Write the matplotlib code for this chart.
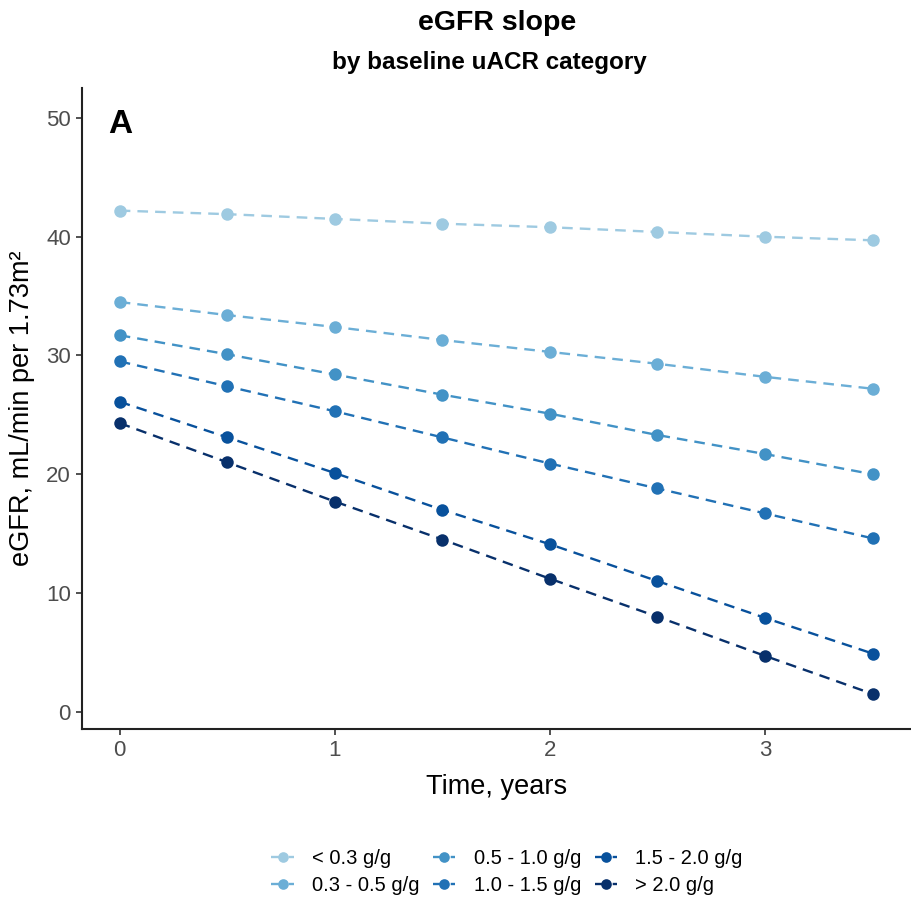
import numpy as np
import matplotlib.pyplot as plt

plt.rcParams['font.family'] = ['Liberation Sans', 'DejaVu Sans']

# Data
years = [0, 0.5, 1, 1.5, 2, 2.5, 3, 3.5]
categories = ['< 0.3 g/g', '0.3 - 0.5 g/g', '0.5 - 1.0 g/g',
              '1.0 - 1.5 g/g', '1.5 - 2.0 g/g', '> 2.0 g/g']
egfr_lt03 = [42.2, 41.9, 41.5, 41.1, 40.8, 40.4, 40.0, 39.7]
egfr_03_05 = [34.5, 33.4, 32.4, 31.3, 30.3, 29.3, 28.2, 27.2]
egfr_05_10 = [31.7, 30.1, 28.4, 26.7, 25.1, 23.3, 21.7, 20.0]
egfr_10_15 = [29.5, 27.4, 25.3, 23.1, 20.9, 18.8, 16.7, 14.6]
egfr_15_20 = [26.1, 23.1, 20.1, 17.0, 14.1, 11.0, 7.9, 4.9]
egfr_gt20 = [24.3, 21.0, 17.7, 14.5, 11.2, 8.0, 4.7, 1.5]
series = [egfr_lt03, egfr_03_05, egfr_05_10, egfr_10_15, egfr_15_20, egfr_gt20]
colors = ['#9ECAE1', '#6BAED6', '#4292C6', '#2171B5', '#08519C', '#08306B']

fig = plt.figure(figsize=(9.12, 9.01), dpi=100)
ax = fig.add_axes([0.090, 0.191, 0.908, 0.711])

for vals, col, lab in zip(series, colors, categories):
    ax.plot(years, vals, color=col, linestyle='--', dashes=(4.5, 3), lw=1.7,
            marker='o', markersize=9, markeredgewidth=0, label=lab)

ax.set_xlim(-0.175, 3.675)
ax.set_ylim(-1.45, 52.5)
ax.set_xticks([0, 1, 2, 3])
ax.set_yticks([0, 10, 20, 30, 40, 50])
ax.tick_params(labelsize=16, labelcolor='#4d4d4d', length=4, width=1.2,
               color='#333333', pad=4)
for s in ['top', 'right']:
    ax.spines[s].set_visible(False)
for s in ['left', 'bottom']:
    ax.spines[s].set_linewidth(1.5)
    ax.spines[s].set_color('#222222')

ax.set_xlabel('Time, years', fontsize=19.5, labelpad=9)
ax.set_ylabel('eGFR, mL/min per 1.73m²', fontsize=19.5, labelpad=8)
ax.text(0.031, 0.931, 'A', transform=ax.transAxes, fontsize=24, fontweight='bold',
        va='baseline', ha='left')

fig.text(0.545, 0.975, 'eGFR slope', ha='center', va='center', fontsize=20.5, fontweight='bold')
fig.text(0.537, 0.931, 'by baseline uACR category', ha='center', va='center',
         fontsize=17.5, fontweight='bold')

fig.legend(loc='center', bbox_to_anchor=(0.556, 0.032), ncol=3, frameon=False,
           fontsize=14.5, handlelength=1.1, columnspacing=0.7, handletextpad=0.9,
           labelspacing=0.4, markerscale=0.85)

plt.savefig('out.png', dpi=100)
